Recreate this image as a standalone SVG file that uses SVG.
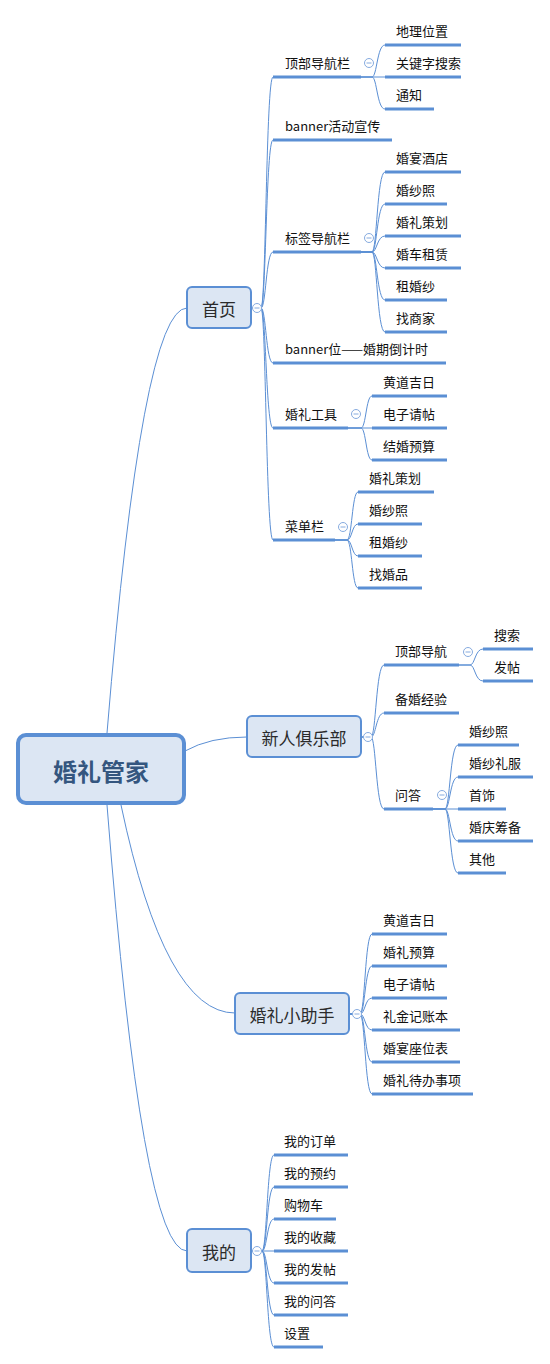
<svg xmlns="http://www.w3.org/2000/svg" width="550" height="1364" viewBox="0 0 550 1364">
<style>
.ln{fill:none;stroke:#5b8fd4;stroke-width:1}
.ul{stroke:#5b8fd4;stroke-width:3}
.t{font-family:"Noto Sans CJK SC","Noto Sans",sans-serif;font-size:13px;fill:#111;dominant-baseline:central;transform:translateY(-1.5px)}
.nt{font-family:"Noto Sans CJK SC","Noto Sans",sans-serif;font-size:17px;fill:#2b2b2b;dominant-baseline:central;text-anchor:middle}
.rt{font-family:"Noto Sans CJK SC","Noto Sans",sans-serif;font-size:24px;font-weight:bold;fill:#34567f;dominant-baseline:central;text-anchor:middle}
.box{fill:#dce6f3;stroke:#5b8fd4;stroke-width:2}
.btn circle{fill:#fff;stroke:#86abdf;stroke-width:1}
.btn line{stroke:#86abdf;stroke-width:1}
</style>
<defs>
<g id="minus" class="btn"><circle cx="0" cy="0" r="4.5"/><line x1="-2.5" y1="0" x2="2.5" y2="0"/></g>
</defs>
<g id="connectors">
<path class="ln" d="M107 733 Q142 308 187 308"/>
<path class="ln" d="M185 751 Q210 737 247 737"/>
<path class="ln" d="M121 805 Q165 1013 235 1013"/>
<path class="ln" d="M107 805 Q142 1251 187 1251"/>
<path class="ln" d="M251 308 H261 C266 308 266 77 273 77"/>
<path class="ln" d="M251 308 H261 C266 308 266 140 273 140"/>
<path class="ln" d="M251 308 H261 C266 308 266 252 273 252"/>
<path class="ln" d="M251 308 H261 C266 308 266 363 273 363"/>
<path class="ln" d="M251 308 H261 C266 308 266 428 273 428"/>
<path class="ln" d="M251 308 H261 C266 308 266 540 273 540"/>
<path class="ln" d="M361 77 H372 C377 77 377 45 385 45"/>
<path class="ln" d="M361 77 H385"/>
<path class="ln" d="M361 77 H372 C377 77 377 109 385 109"/>
<path class="ln" d="M361 252 H372 C377 252 377 172 385 172"/>
<path class="ln" d="M361 252 H372 C377 252 377 204 385 204"/>
<path class="ln" d="M361 252 H372 C377 252 377 236 385 236"/>
<path class="ln" d="M361 252 H372 C377 252 377 268 385 268"/>
<path class="ln" d="M361 252 H372 C377 252 377 300 385 300"/>
<path class="ln" d="M361 252 H372 C377 252 377 332 385 332"/>
<path class="ln" d="M348 428 H361 C366 428 366 396 372 396"/>
<path class="ln" d="M348 428 H372"/>
<path class="ln" d="M348 428 H361 C366 428 366 460 372 460"/>
<path class="ln" d="M335 540 H347 C352 540 352 492 358 492"/>
<path class="ln" d="M335 540 H347 C352 540 352 524 358 524"/>
<path class="ln" d="M335 540 H347 C352 540 352 556 358 556"/>
<path class="ln" d="M335 540 H347 C352 540 352 588 358 588"/>
<path class="ln" d="M361 737 H371 C376 737 376 665 384 665"/>
<path class="ln" d="M361 737 H371 C376 737 376 713 384 713"/>
<path class="ln" d="M361 737 H371 C376 737 376 809 384 809"/>
<path class="ln" d="M459 665 H470 C475 665 475 649 483 649"/>
<path class="ln" d="M459 665 H470 C475 665 475 681 483 681"/>
<path class="ln" d="M433 809 H445 C450 809 450 745 458 745"/>
<path class="ln" d="M433 809 H445 C450 809 450 777 458 777"/>
<path class="ln" d="M433 809 H458"/>
<path class="ln" d="M433 809 H445 C450 809 450 841 458 841"/>
<path class="ln" d="M433 809 H445 C450 809 450 873 458 873"/>
<path class="ln" d="M349 1014 H360 C365 1014 365 934 372 934"/>
<path class="ln" d="M349 1014 H360 C365 1014 365 966 372 966"/>
<path class="ln" d="M349 1014 H360 C365 1014 365 998 372 998"/>
<path class="ln" d="M349 1014 H360 C365 1014 365 1030 372 1030"/>
<path class="ln" d="M349 1014 H360 C365 1014 365 1062 372 1062"/>
<path class="ln" d="M349 1014 H360 C365 1014 365 1094 372 1094"/>
<path class="ln" d="M251 1251 H262 C267 1251 267 1155 274 1155"/>
<path class="ln" d="M251 1251 H262 C267 1251 267 1187 274 1187"/>
<path class="ln" d="M251 1251 H262 C267 1251 267 1219 274 1219"/>
<path class="ln" d="M251 1251 H274"/>
<path class="ln" d="M251 1251 H262 C267 1251 267 1283 274 1283"/>
<path class="ln" d="M251 1251 H262 C267 1251 267 1315 274 1315"/>
<path class="ln" d="M251 1251 H262 C267 1251 267 1347 274 1347"/>
</g>

<g id="root"><rect x="18" y="735" width="166" height="68" rx="8" fill="#dce6f3" stroke="#5b8fd4" stroke-width="4"/><text class="rt" x="101" y="770">婚礼管家</text></g>

<g id="n-shouye"><rect class="box" x="187" y="287" width="64" height="41" rx="5"/><text class="nt" x="219" y="308">首页</text><use href="#minus" x="257" y="308"/></g>
<g id="n-dingbu"><line class="ul" x1="273" y1="77" x2="361" y2="77"/><text class="t" x="285" y="64">顶部导航栏</text><use href="#minus" x="369" y="63"/></g>
<g id="n-dili"><line class="ul" x1="385" y1="45" x2="461" y2="45"/><text class="t" x="396" y="32">地理位置</text></g>
<g id="n-guanjian"><line class="ul" x1="385" y1="77" x2="461" y2="77"/><text class="t" x="396" y="64">关键字搜索</text></g>
<g id="n-tongzhi"><line class="ul" x1="385" y1="109" x2="434" y2="109"/><text class="t" x="396" y="96">通知</text></g>
<g id="n-banner1"><line class="ul" x1="273" y1="140" x2="392" y2="140"/><text class="t" x="285" y="127">banner活动宣传</text></g>
<g id="n-biaoqian"><line class="ul" x1="273" y1="252" x2="361" y2="252"/><text class="t" x="285" y="239">标签导航栏</text><use href="#minus" x="369" y="238"/></g>
<g id="n-jiudian"><line class="ul" x1="385" y1="172" x2="461" y2="172"/><text class="t" x="396" y="159">婚宴酒店</text></g>
<g id="n-hunsha1"><line class="ul" x1="385" y1="204" x2="447" y2="204"/><text class="t" x="396" y="191">婚纱照</text></g>
<g id="n-cehua1"><line class="ul" x1="385" y1="236" x2="461" y2="236"/><text class="t" x="396" y="223">婚礼策划</text></g>
<g id="n-hunche"><line class="ul" x1="385" y1="268" x2="461" y2="268"/><text class="t" x="396" y="255">婚车租赁</text></g>
<g id="n-zu1"><line class="ul" x1="385" y1="300" x2="447" y2="300"/><text class="t" x="396" y="287">租婚纱</text></g>
<g id="n-shangjia"><line class="ul" x1="385" y1="332" x2="447" y2="332"/><text class="t" x="396" y="319">找商家</text></g>
<g id="n-banner2"><line class="ul" x1="273" y1="363" x2="446" y2="363"/><text class="t" x="285" y="350">banner位——婚期倒计时</text></g>
<g id="n-gongju"><line class="ul" x1="273" y1="428" x2="348" y2="428"/><text class="t" x="285" y="415">婚礼工具</text><use href="#minus" x="356" y="414"/></g>
<g id="n-huangdao1"><line class="ul" x1="372" y1="396" x2="447" y2="396"/><text class="t" x="383" y="383">黄道吉日</text></g>
<g id="n-qingtie1"><line class="ul" x1="372" y1="428" x2="447" y2="428"/><text class="t" x="383" y="415">电子请帖</text></g>
<g id="n-yusuan1"><line class="ul" x1="372" y1="460" x2="447" y2="460"/><text class="t" x="383" y="447">结婚预算</text></g>
<g id="n-caidan"><line class="ul" x1="273" y1="540" x2="335" y2="540"/><text class="t" x="285" y="527">菜单栏</text><use href="#minus" x="343" y="527"/></g>
<g id="n-cehua2"><line class="ul" x1="358" y1="492" x2="434" y2="492"/><text class="t" x="369" y="479">婚礼策划</text></g>
<g id="n-hunsha2"><line class="ul" x1="358" y1="524" x2="422" y2="524"/><text class="t" x="369" y="511">婚纱照</text></g>
<g id="n-zu2"><line class="ul" x1="358" y1="556" x2="422" y2="556"/><text class="t" x="369" y="543">租婚纱</text></g>
<g id="n-hunpin"><line class="ul" x1="358" y1="588" x2="422" y2="588"/><text class="t" x="369" y="575">找婚品</text></g>

<g id="n-club"><rect class="box" x="247" y="716" width="114" height="41" rx="5"/><text class="nt" x="304" y="737">新人俱乐部</text><use href="#minus" x="368" y="737"/></g>
<g id="n-dingbu2"><line class="ul" x1="384" y1="665" x2="459" y2="665"/><text class="t" x="395" y="652">顶部导航</text><use href="#minus" x="468" y="652"/></g>
<g id="n-sousuo"><line class="ul" x1="483" y1="649" x2="533" y2="649"/><text class="t" x="494" y="636">搜索</text></g>
<g id="n-fatie"><line class="ul" x1="483" y1="681" x2="533" y2="681"/><text class="t" x="494" y="668">发帖</text></g>
<g id="n-jingyan"><line class="ul" x1="384" y1="713" x2="459" y2="713"/><text class="t" x="395" y="700">备婚经验</text></g>
<g id="n-wenda"><line class="ul" x1="384" y1="809" x2="433" y2="809"/><text class="t" x="395" y="796">问答</text><use href="#minus" x="442" y="795"/></g>
<g id="n-hunsha3"><line class="ul" x1="458" y1="745" x2="519" y2="745"/><text class="t" x="469" y="732">婚纱照</text></g>
<g id="n-lifu"><line class="ul" x1="458" y1="777" x2="533" y2="777"/><text class="t" x="469" y="764">婚纱礼服</text></g>
<g id="n-shoushi"><line class="ul" x1="458" y1="809" x2="506" y2="809"/><text class="t" x="469" y="796">首饰</text></g>
<g id="n-hunqing"><line class="ul" x1="458" y1="841" x2="533" y2="841"/><text class="t" x="469" y="828">婚庆筹备</text></g>
<g id="n-qita"><line class="ul" x1="458" y1="873" x2="506" y2="873"/><text class="t" x="469" y="860">其他</text></g>

<g id="n-helper"><rect class="box" x="235" y="993" width="114" height="41" rx="5"/><text class="nt" x="292" y="1014">婚礼小助手</text><use href="#minus" x="357" y="1014"/></g>
<g id="n-huangdao2"><line class="ul" x1="372" y1="934" x2="447" y2="934"/><text class="t" x="383" y="921">黄道吉日</text></g>
<g id="n-yusuan2"><line class="ul" x1="372" y1="966" x2="447" y2="966"/><text class="t" x="383" y="953">婚礼预算</text></g>
<g id="n-qingtie2"><line class="ul" x1="372" y1="998" x2="447" y2="998"/><text class="t" x="383" y="985">电子请帖</text></g>
<g id="n-lijin"><line class="ul" x1="372" y1="1030" x2="460" y2="1030"/><text class="t" x="383" y="1017">礼金记账本</text></g>
<g id="n-zuowei"><line class="ul" x1="372" y1="1062" x2="460" y2="1062"/><text class="t" x="383" y="1049">婚宴座位表</text></g>
<g id="n-daiban"><line class="ul" x1="372" y1="1094" x2="473" y2="1094"/><text class="t" x="383" y="1081">婚礼待办事项</text></g>

<g id="n-mine"><rect class="box" x="187" y="1229" width="64" height="43" rx="5"/><text class="nt" x="219" y="1251">我的</text><use href="#minus" x="257" y="1251"/></g>
<g id="n-dingdan"><line class="ul" x1="274" y1="1155" x2="348" y2="1155"/><text class="t" x="284" y="1142">我的订单</text></g>
<g id="n-yuyue"><line class="ul" x1="274" y1="1187" x2="348" y2="1187"/><text class="t" x="284" y="1174">我的预约</text></g>
<g id="n-gouwu"><line class="ul" x1="274" y1="1219" x2="336" y2="1219"/><text class="t" x="284" y="1206">购物车</text></g>
<g id="n-shoucang"><line class="ul" x1="274" y1="1251" x2="348" y2="1251"/><text class="t" x="284" y="1238">我的收藏</text></g>
<g id="n-fatie2"><line class="ul" x1="274" y1="1283" x2="348" y2="1283"/><text class="t" x="284" y="1270">我的发帖</text></g>
<g id="n-wenda2"><line class="ul" x1="274" y1="1315" x2="348" y2="1315"/><text class="t" x="284" y="1302">我的问答</text></g>
<g id="n-shezhi"><line class="ul" x1="274" y1="1347" x2="323" y2="1347"/><text class="t" x="284" y="1334">设置</text></g>
</svg>
